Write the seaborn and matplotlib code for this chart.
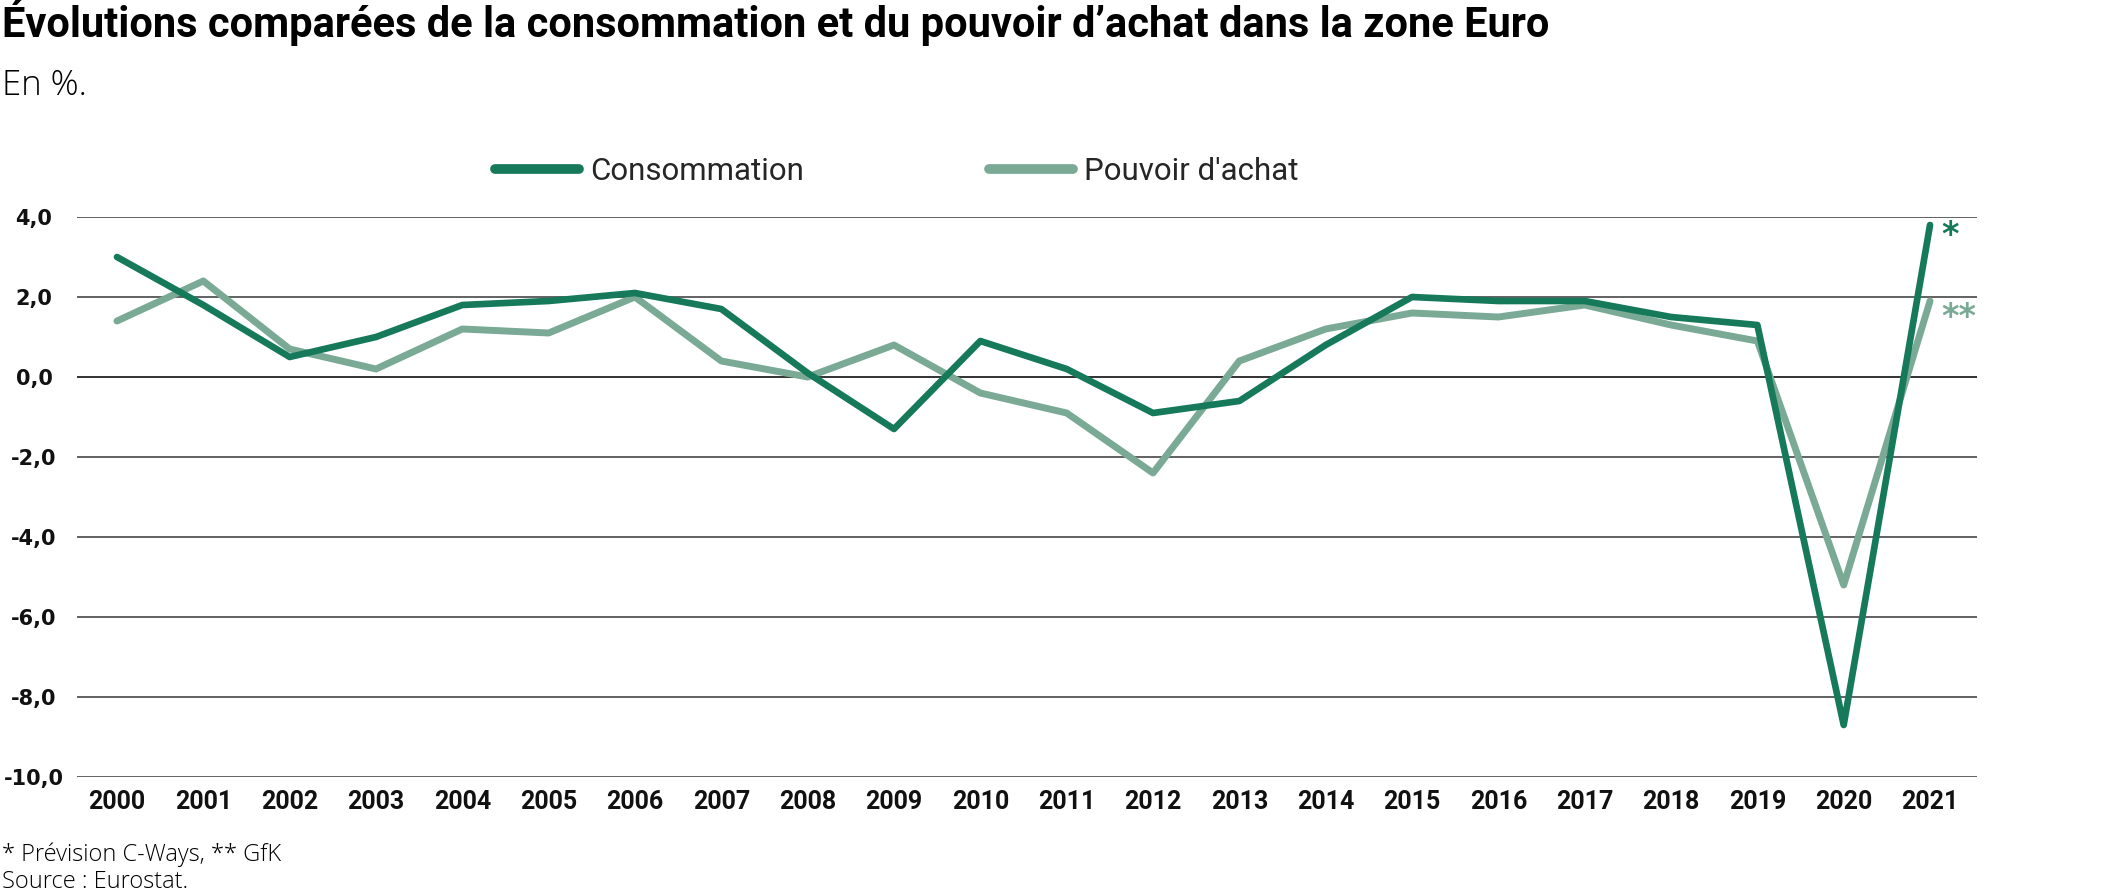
import matplotlib
matplotlib.use("Agg")
import pandas as pd
import matplotlib.pyplot as plt
import seaborn as sns
from matplotlib.lines import Line2D
from matplotlib.ticker import FuncFormatter

# -------------------------------
# Data
# -------------------------------
years = list(range(2000, 2022))
consommation = [3.0, 1.8, 0.5, 1.0, 1.8, 1.9, 2.1, 1.7, 0.1, -1.3, 0.9,
                0.2, -0.9, -0.6, 0.8, 2.0, 1.9, 1.9, 1.5, 1.3, -8.7, 3.8]
pouvoir_achat = [1.4, 2.4, 0.7, 0.2, 1.2, 1.1, 2.0, 0.4, 0.0, 0.8, -0.4,
                 -0.9, -2.4, 0.4, 1.2, 1.6, 1.5, 1.8, 1.3, 0.9, -5.2, 1.9]
series_names = ["Consommation", "Pouvoir d'achat"]
end_marks = ["*", "**"]
y_ticks = [4, 2, 0, -2, -4, -6, -8, -10]

dark_green = "#167a5a"
light_green = "#7aaa96"

df = pd.DataFrame({"year": years * 2,
                   "value": consommation + pouvoir_achat,
                   "serie": [series_names[0]] * len(years) + [series_names[1]] * len(years)})

# -------------------------------
# Figure
# -------------------------------
sns.set_theme(style="white")
plt.rcParams['font.family'] = ['Roboto', 'DejaVu Sans']

W, H = 2125, 896
fig = plt.figure(figsize=(W / 100, H / 100), dpi=100)
ax = fig.add_axes([77 / W, 1 - 777 / H, 1900 / W, 560 / H])

# light line first so the dark one sits on top
sns.lineplot(data=df[df["serie"] == series_names[1]], x="year", y="value",
             color=light_green, linewidth=5.0, ax=ax, legend=False,
             solid_capstyle="round", solid_joinstyle="round")
sns.lineplot(data=df[df["serie"] == series_names[0]], x="year", y="value",
             color=dark_green, linewidth=4.8, ax=ax, legend=False,
             solid_capstyle="round", solid_joinstyle="round")

ax.set_xlim(1999.537, 2021.544)
ax.set_ylim(-10, 4)
ax.set_xticks(years)
ax.set_yticks(y_ticks)
ax.yaxis.set_major_formatter(FuncFormatter(lambda v, p: f"{v:.1f}".replace(".", ",")))
ax.set_xlabel("")
ax.set_ylabel("")

for s in ax.spines.values():
    s.set_visible(False)
ax.grid(False)
for t in y_ticks:
    ax.axhline(t, color="#222222" if t == 0 else "#555555", linewidth=1.3, zorder=0)

ax.tick_params(axis="both", length=0)
ax.tick_params(axis="y", pad=31)
ax.tick_params(axis="x", pad=9)
for lab in ax.get_yticklabels():
    lab.set_fontfamily("DejaVu Sans")
    lab.set_fontweight("bold")
    lab.set_fontsize(15)
    lab.set_color("#111111")
    lab.set_horizontalalignment("center")
for lab in ax.get_xticklabels():
    lab.set_fontweight("bold")
    lab.set_fontsize(18)
    lab.set_color("#111111")

# asterisks after the last points
ax.annotate(end_marks[0], xy=(years[-1], consommation[-1]), xytext=(11, -20),
            textcoords="offset pixels", ha="left", va="baseline",
            fontfamily="DejaVu Sans", fontweight="bold", fontsize=24, color=dark_green)
ax.annotate(end_marks[1], xy=(years[-1], pouvoir_achat[-1]), xytext=(11, -26),
            textcoords="offset pixels", ha="left", va="baseline",
            fontfamily="DejaVu Sans", fontweight="bold", fontsize=24, color=light_green)

# legend
handles = [Line2D([0], [0], color=dark_green, linewidth=7, solid_capstyle="round"),
           Line2D([0], [0], color=light_green, linewidth=7, solid_capstyle="round")]
fig.legend(handles, series_names, loc="center", bbox_to_anchor=(897 / W, 1 - 171 / H),
           ncol=2, frameon=False, fontsize=22.5, handlelength=2.7,
           handletextpad=0.36, columnspacing=5.9)

# titles and notes
fig.text(0.001, 1 - 37 / H, "Évolutions comparées de la consommation et du pouvoir d’achat dans la zone Euro",
         fontsize=30, fontweight="bold", va="baseline", ha="left", color="#000000")
fig.text(0.001, 1 - 95 / H, "En %.", fontsize=25, fontweight="light", va="baseline", ha="left",
         family=["Open Sans", "DejaVu Sans"], color="#000000")
fig.text(0.001, 1 - 861 / H, "* Prévision C-Ways, ** GfK", fontsize=17, fontweight="light",
         va="baseline", ha="left", family=["Open Sans", "DejaVu Sans"], color="#000000")
fig.text(0.001, 1 - 888 / H, "Source : Eurostat.", fontsize=17, fontweight="light",
         va="baseline", ha="left", family=["Open Sans", "DejaVu Sans"], color="#000000")

fig.savefig("out.png", dpi=100)
